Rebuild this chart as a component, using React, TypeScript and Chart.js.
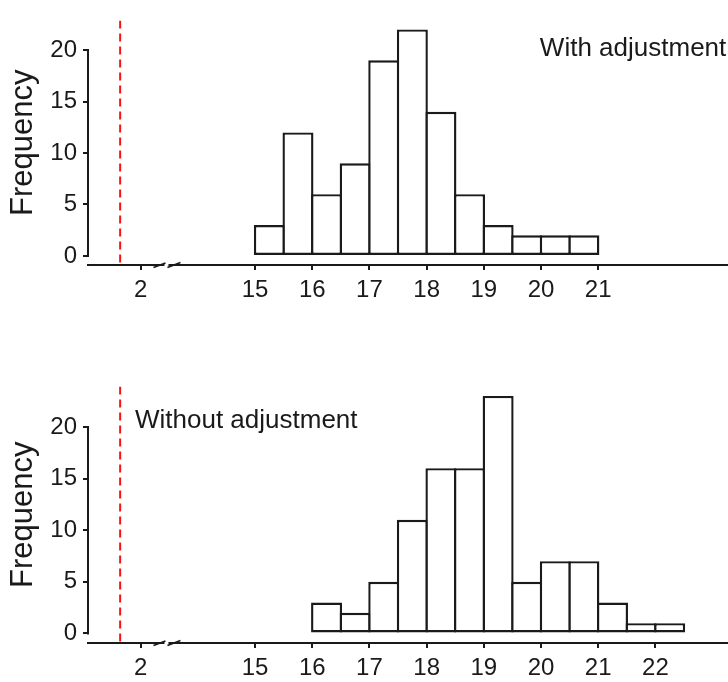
import React, { useEffect, useRef } from "react";
import { Chart, registerables } from "chart.js";

Chart.register(...registerables);

// ---------------- data ----------------
const binWidth = 0.5;
const withBinStarts = [15, 15.5, 16, 16.5, 17, 17.5, 18, 18.5, 19, 19.5, 20, 20.5];
const withCounts = [3, 12, 6, 9, 19, 22, 14, 6, 3, 2, 2, 2];
const withoutBinStarts = [16, 16.5, 17, 17.5, 18, 18.5, 19, 19.5, 20, 20.5, 21, 21.5, 22];
const withoutCounts = [3, 2, 5, 11, 16, 16, 23, 5, 7, 7, 3, 1, 1];
const yTickValues = [0, 5, 10, 15, 20];
const withXTickLabels = [2, 15, 16, 17, 18, 19, 20, 21];
const withoutXTickLabels = [2, 15, 16, 17, 18, 19, 20, 21, 22];
const thresholdValue = 1.64;
const panelTitles = ["With adjustment", "Without adjustment"];

// broken x axis: values below the break are shifted right so that 2 sits next to 15
const lowSegmentShift = 11;
const toDisplay = (v: number) => (v < 10 ? v + lowSegmentShift : v);
const fromDisplay = (d: number) => (d < 14 ? d - lowSegmentShift : d);
const breakMarkValue = 2.45;
const xAxisMin = 1.078;
const xAxisMax = 23.27;

const FONT = '"Liberation Sans", Arial, Helvetica, sans-serif';
const INK = "#1a1a1a";
const BAR_LINE = 2.4;

Chart.defaults.font.family = FONT;
Chart.defaults.color = INK;

type PanelCfg = {
  binStarts: number[];
  counts: number[];
  xTicks: number[];
  title: string;
  titleX: number;
  titleY: number;
  height: number;
  padTop: number;
  xAxisHeight: number;
};

const panels: PanelCfg[] = [
  {
    binStarts: withBinStarts,
    counts: withCounts,
    xTicks: withXTickLabels,
    title: panelTitles[0],
    titleX: 19.98,
    titleY: 19.4,
    height: 330,
    padTop: 9,
    xAxisHeight: 65,
  },
  {
    binStarts: withoutBinStarts,
    counts: withoutCounts,
    xTicks: withoutXTickLabels,
    title: panelTitles[1],
    titleX: 1.9,
    titleY: 19.94,
    height: 352,
    padTop: 56.4,
    xAxisHeight: 39,
  },
];

function Panel({ cfg }: { cfg: PanelCfg }) {
  const ref = useRef<HTMLCanvasElement | null>(null);

  useEffect(() => {
    const canvas = ref.current;
    if (!canvas) return;
    const yTop = Math.max(...cfg.counts);
    const yMin = -0.04 * yTop;
    const yMax = yTop * 1.04;
    const displayTicks = cfg.xTicks.map(toDisplay);

    const decorations = {
      id: "decorations",
      afterDraw(chart: any) {
        const { ctx, chartArea } = chart;
        const xs = chart.scales.x;
        const ys = chart.scales.y;
        ctx.save();
        // y axis line spanning the tick range only
        ctx.strokeStyle = INK;
        ctx.lineWidth = 2;
        ctx.beginPath();
        const x0 = chartArea.left;
        ctx.moveTo(x0, ys.getPixelForValue(yTickValues[0]) + 1);
        ctx.lineTo(x0, ys.getPixelForValue(yTickValues[yTickValues.length - 1]) - 1);
        ctx.stroke();

        // axis break marks
        const bx = xs.getPixelForValue(toDisplay(breakMarkValue));
        const by = chartArea.bottom;
        ctx.fillStyle = "#ffffff";
        ctx.fillRect(bx - 2, by - 3, 4, 6);
        ctx.strokeStyle = INK;
        ctx.lineWidth = 1.8;
        ctx.beginPath();
        ctx.moveTo(bx - 13, by + 2.5);
        ctx.lineTo(bx - 1, by - 2);
        ctx.moveTo(bx + 1, by + 2.5);
        ctx.lineTo(bx + 14, by - 2.5);
        ctx.stroke();

        // panel title
        ctx.fillStyle = INK;
        ctx.font = `26px ${FONT}`;
        ctx.textAlign = "left";
        ctx.textBaseline = "alphabetic";
        ctx.fillText(
          cfg.title,
          xs.getPixelForValue(toDisplay(cfg.titleX)),
          ys.getPixelForValue(cfg.titleY)
        );
        ctx.restore();
      },
    };

    const chart = new Chart(canvas, {
      type: "bar",
      data: {
        datasets: [
          {
            type: "bar",
            data: cfg.binStarts.map((s, i) => ({ x: toDisplay(s + binWidth / 2), y: cfg.counts[i] })),
            backgroundColor: "#ffffff",
            borderColor: INK,
            borderWidth: BAR_LINE,
            borderSkipped: false,
            barPercentage: 1.084,
            categoryPercentage: 1,
            order: 2,
          } as any,
          {
            type: "line",
            data: [
              { x: toDisplay(thresholdValue), y: yMax },
              { x: toDisplay(thresholdValue), y: yMin },
            ],
            borderColor: "#ff1010",
            borderWidth: 2,
            borderDash: [8, 5],
            pointRadius: 0,
            fill: false,
            order: 1,
          } as any,
        ],
      },
      options: {
        responsive: false,
        animation: false,
        devicePixelRatio: 1,
        layout: { autoPadding: false, padding: { top: cfg.padTop, left: 0, right: 0, bottom: 0 } },
        plugins: { legend: { display: false }, tooltip: { enabled: false }, title: { display: false } },
        scales: {
          x: {
            type: "linear",
            min: xAxisMin + lowSegmentShift,
            max: xAxisMax,
            offset: false,
            afterFit: (s: any) => {
              s.height = cfg.xAxisHeight;
            },
            afterBuildTicks: (s: any) => {
              s.ticks = displayTicks.map((v) => ({ value: v }));
            },
            grid: {
              display: true,
              offset: false,
              drawOnChartArea: false,
              drawTicks: true,
              tickLength: 5,
              color: INK,
              lineWidth: 2,
            },
            border: { display: true, color: INK, width: 2 },
            ticks: {
              autoSkip: false,
              maxRotation: 0,
              padding: 6,
              color: INK,
              font: { size: 24, family: FONT },
              callback: (v: any) => String(fromDisplay(Number(v))),
            },
          },
          y: {
            type: "linear",
            min: yMin,
            max: yMax,
            afterFit: (s: any) => {
              s.width = 88;
            },
            afterBuildTicks: (s: any) => {
              s.ticks = yTickValues.map((v) => ({ value: v }));
            },
            grid: {
              display: true,
              drawOnChartArea: false,
              drawTicks: true,
              tickLength: 5,
              color: INK,
              lineWidth: 2,
            },
            border: { display: false },
            title: {
              display: true,
              text: "Frequency",
              color: INK,
              font: { size: 31, family: FONT },
              padding: { top: 5, bottom: 0 },
            },
            ticks: {
              padding: 6,
              color: INK,
              font: { size: 24, family: FONT },
              callback: (v: any) => String(v),
            },
          },
        },
      } as any,
      plugins: [decorations],
    });
    return () => chart.destroy();
  }, [cfg]);

  return (
    <canvas
      ref={ref}
      width={728}
      height={cfg.height}
      style={{ display: "block", width: 728, height: cfg.height }}
    />
  );
}

export default function App() {
  return (
    <div style={{ position: "absolute", left: 0, top: 0, width: 728, height: 682, background: "#ffffff" }}>
      {panels.map((p, i) => (
        <Panel key={i} cfg={p} />
      ))}
    </div>
  );
}
